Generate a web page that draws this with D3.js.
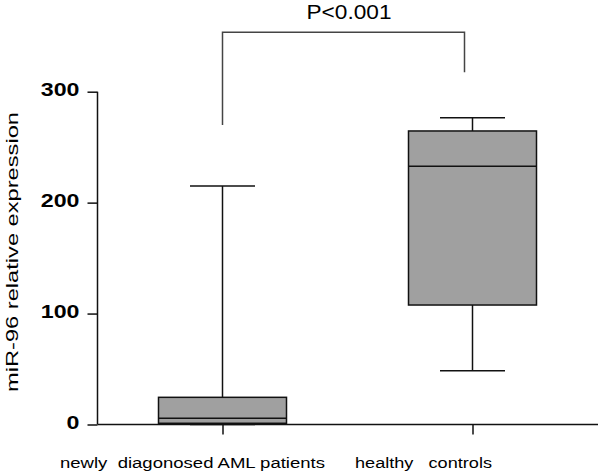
<!DOCTYPE html>
<html>
<head>
<meta charset="utf-8">
<script src="https://cdn.jsdelivr.net/npm/d3@7"></script>
<style>
  html, body { margin: 0; padding: 0; background: #fff; }
  svg { display: block; font-family: "Liberation Sans", Arial, sans-serif; }
</style>
</head>
<body>
<div id="chart"></div>
<script>
// Box plot data
const categories = ['newly diagonosed AML patients', 'healthy controls'];
const whiskerLow = [0, 48.5];
const q1 = [1.1, 107.7];
const median = [5.6, 232.8];
const q3 = [24.5, 264.6];
const whiskerHigh = [215, 276.6];

const yTicks = [0, 100, 200, 300];
const pLabel = 'P<0.001';
const bracketTop = 353.5;
const bracketEnds = [270, 317.5];

const width = 600, height = 475;

const svg = d3.select('#chart').append('svg')
  .attr('width', width)
  .attr('height', height);

const x = d3.scalePoint()
  .domain(categories)
  .range([97.5, 597.5])
  .padding(0.5);

const y = d3.scaleLinear()
  .domain([0, 300])
  .range([424.5, 91.7]);

const boxW = x.step() * 0.512;
const capW = x.step() * 0.26;

const data = categories.map((c, i) => ({
  cat: c, lo: whiskerLow[i], q1: q1[i], med: median[i], q3: q3[i], hi: whiskerHigh[i]
}));

const g = svg.append('g');

// whiskers
g.selectAll('.whisker')
  .data(data)
  .enter().append('line')
  .attr('x1', d => x(d.cat))
  .attr('x2', d => x(d.cat))
  .attr('y1', d => y(d.lo))
  .attr('y2', d => y(d.hi))
  .style('stroke', '#111')
  .style('stroke-width', 1.5);

// caps
['lo', 'hi'].forEach(k => {
  g.selectAll('.cap-' + k)
    .data(data)
    .enter().append('line')
    .attr('x1', d => x(d.cat) - capW / 2)
    .attr('x2', d => x(d.cat) + capW / 2)
    .attr('y1', d => y(d[k]))
    .attr('y2', d => y(d[k]))
    .style('stroke', '#111')
    .style('stroke-width', 1.5);
});

// boxes
g.selectAll('.box')
  .data(data)
  .enter().append('rect')
  .attr('x', d => x(d.cat) - boxW / 2)
  .attr('width', boxW)
  .attr('y', d => y(d.q3))
  .attr('height', d => y(d.q1) - y(d.q3))
  .style('fill', '#a0a0a0')
  .style('stroke', '#111')
  .style('stroke-width', 1.5);

// medians
g.selectAll('.median')
  .data(data)
  .enter().append('line')
  .attr('x1', d => x(d.cat) - boxW / 2)
  .attr('x2', d => x(d.cat) + boxW / 2)
  .attr('y1', d => y(d.med))
  .attr('y2', d => y(d.med))
  .style('stroke', '#111')
  .style('stroke-width', 1.5);

// y axis
const yAxis = svg.append('g')
  .attr('transform', 'translate(97.5,0)')
  .call(d3.axisLeft(y).tickValues(yTicks).tickSize(10).tickPadding(8));
yAxis.select('.domain').attr('d', `M0,${y(300)}V${y(0)}`).style('stroke', '#111').style('stroke-width', 1.5);
yAxis.selectAll('.tick line').style('stroke', '#111').style('stroke-width', 1.5);
yAxis.selectAll('.tick text')
  .attr('dy', '3.8')
  .style('font-family', '"Liberation Sans", Arial, sans-serif')
  .style('font-size', '18px')
  .style('font-weight', 'bold')
  .style('fill', '#000')
  .attr('textLength', d => String(d).length * 12.9)
  .attr('lengthAdjust', 'spacingAndGlyphs');

// x axis
const xAxis = svg.append('g')
  .attr('transform', `translate(0,${y(0)})`)
  .call(d3.axisBottom(x).tickSize(10).tickFormat(''));
xAxis.select('.domain').attr('d', 'M97.5,0H598').style('stroke', '#111').style('stroke-width', 1.5);
xAxis.selectAll('.tick line').style('stroke', '#111').style('stroke-width', 1.5);

// category labels
const labelPos = [{ x0: 60, len: 265 }, { x0: 355, len: 137 }];
svg.selectAll('.xlabel')
  .data(categories)
  .enter().append('text')
  .attr('x', (d, i) => labelPos[i].x0)
  .attr('y', 467.5)
  .attr('textLength', (d, i) => labelPos[i].len)
  .attr('lengthAdjust', 'spacingAndGlyphs')
  .style('font-size', '15.5px')
  .style('fill', '#000')
  .text(d => d.replace(' ', '\u00a0\u00a0').replace('healthy\u00a0\u00a0', 'healthy\u00a0\u00a0\u00a0'));

// y title
svg.append('text')
  .attr('transform', 'translate(18,252) rotate(-90)')
  .attr('text-anchor', 'middle')
  .attr('textLength', 280)
  .attr('lengthAdjust', 'spacingAndGlyphs')
  .style('font-size', '17px')
  .style('fill', '#000')
  .text('miR-96 relative expression');

// significance bracket
const bx1 = x(categories[0]);
const bx2 = x(categories[1]) - 8;
svg.append('path')
  .attr('d', `M${bx1},${y(bracketEnds[0])}V${y(bracketTop)}H${bx2}V${y(bracketEnds[1])}`)
  .style('fill', 'none')
  .style('stroke', '#444')
  .style('stroke-width', 1.5);

svg.append('text')
  .attr('x', 349)
  .attr('y', 18.5)
  .attr('text-anchor', 'middle')
  .attr('textLength', 85)
  .attr('lengthAdjust', 'spacingAndGlyphs')
  .style('font-size', '20px')
  .style('fill', '#000')
  .text(pLabel);
</script>
</body>
</html>
